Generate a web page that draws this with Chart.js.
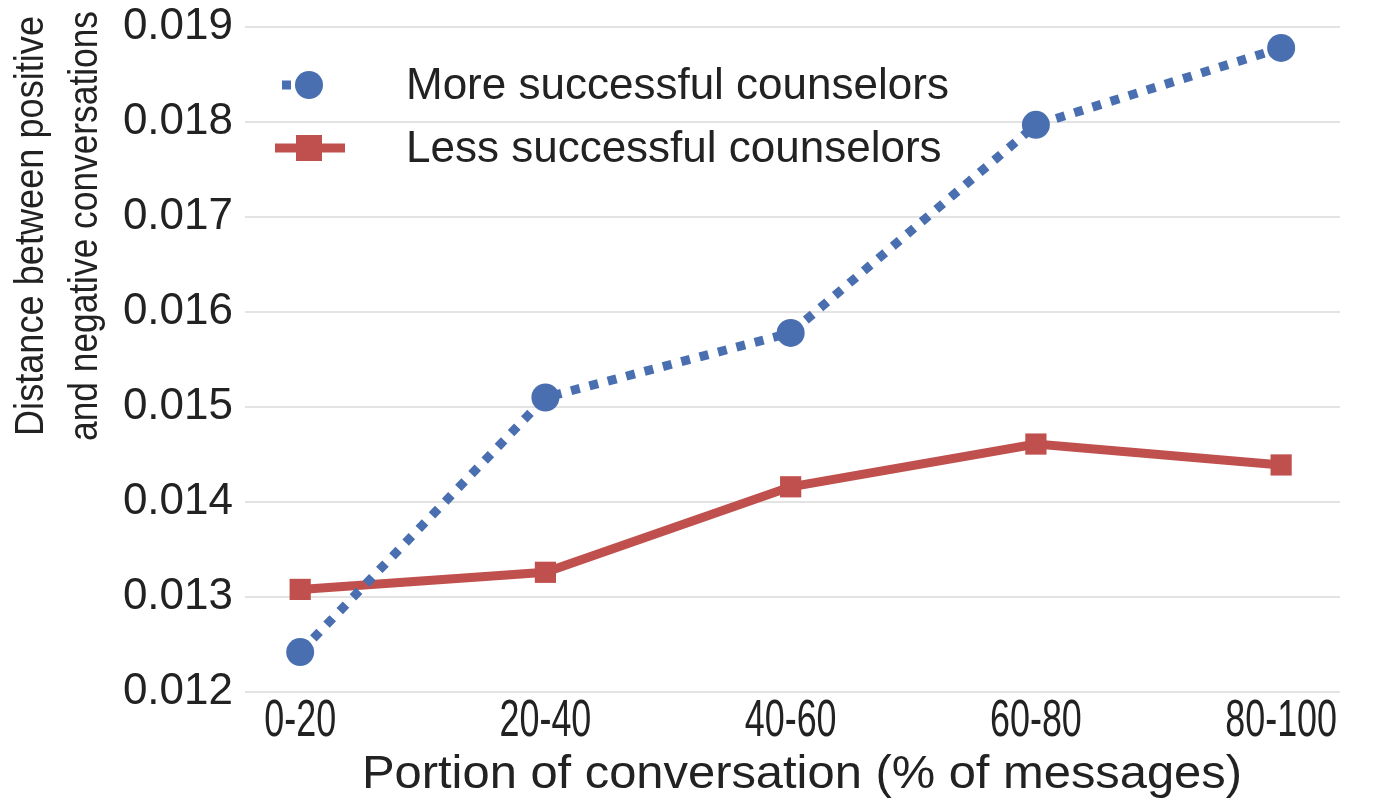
<!DOCTYPE html>
<html><head><meta charset="utf-8">
<script src="https://cdn.jsdelivr.net/npm/chart.js@4"></script>
<style>html,body{margin:0;padding:0;background:#fff}#wrap{width:1375px;height:810px}</style>
</head><body><div id="wrap"><canvas id="c" width="1375" height="810"></canvas></div>
<script>
const categories = ['0-20', '20-40', '40-60', '60-80', '80-100'];
const moreSuccessful = [0.01242, 0.01510, 0.01578, 0.01797, 0.01878];
const lessSuccessful = [0.01308, 0.01326, 0.01416, 0.01461, 0.01439];
const yTicks = [0.012, 0.013, 0.014, 0.015, 0.016, 0.017, 0.018, 0.019];
const seriesNames = ['More successful counselors', 'Less successful counselors'];
const yTitle = ['Distance between positive', 'and negative conversations'];
const xTitle = 'Portion of conversation (% of messages)';

const BLUE = '#4a6fb0', RED = '#c0504d';
const FONT = '"Liberation Sans", Arial, Helvetica, sans-serif';
const TXT = '#222';

// draw text horizontally squeezed to a target width
function fitText(ctx, text, x, y, width) {
  const w = ctx.measureText(text).width;
  ctx.save();
  ctx.translate(x, y);
  ctx.scale(width / w, 1);
  ctx.fillText(text, 0, 0);
  ctx.restore();
}

const customText = {
  id: 'customText',
  afterDraw(chart) {
    const ctx = chart.ctx;
    const xs = chart.scales.x;
    ctx.save();
    ctx.fillStyle = TXT;
    ctx.textAlign = 'center';
    ctx.textBaseline = 'middle';
    // x tick labels (condensed), positioned by the x scale
    ctx.font = '52px ' + FONT;
    categories.forEach((c, i) => {
      const w = ctx.measureText(c).width * 0.69;
      fitText(ctx, c, xs.getPixelForValue(i), 722, w);
    });
    // y title (two rotated lines)
    ctx.font = '41px ' + FONT;
    const yLens = [420, 430];
    [32, 86].forEach((x, i) => {
      ctx.save();
      ctx.translate(x, 226);
      ctx.rotate(-Math.PI / 2);
      fitText(ctx, yTitle[i], 0, 0, yLens[i]);
      ctx.restore();
    });
    // x title
    ctx.font = '47px ' + FONT;
    fitText(ctx, xTitle, 802, 775, 880);
    // legend
    ctx.font = '44px ' + FONT;
    ctx.textAlign = 'left';
    const items = [
      {y: 85, color: BLUE, dash: [9, 18], point: 'circle'},
      {y: 148, color: RED, dash: [], point: 'rect'}
    ];
    items.forEach((it, i) => {
      ctx.strokeStyle = it.color; ctx.fillStyle = it.color;
      ctx.lineWidth = 9;
      ctx.setLineDash(it.dash);
      ctx.beginPath();
      if (it.point === 'circle') { ctx.moveTo(282, it.y); ctx.lineTo(336, it.y); }
      else { ctx.moveTo(275, it.y); ctx.lineTo(345, it.y); }
      ctx.stroke();
      ctx.setLineDash([]);
      if (it.point === 'circle') { ctx.beginPath(); ctx.arc(309, it.y, 14, 0, Math.PI * 2); ctx.fill(); }
      else { ctx.fillRect(296, it.y - 13, 26, 26); }
      ctx.fillStyle = TXT;
      ctx.fillText(seriesNames[i], 406, it.y + 2);
    });
    ctx.restore();
  }
};

new Chart(document.getElementById('c'), {
  type: 'line',
  data: {
    datasets: [
      {
        label: seriesNames[0],
        data: moreSuccessful.map((v, i) => ({x: i, y: v})),
        borderColor: BLUE, backgroundColor: BLUE,
        borderWidth: 9, borderDash: [9, 10],
        pointStyle: 'circle', pointRadius: 14, pointHoverRadius: 14,
        pointBorderWidth: 0, tension: 0
      },
      {
        label: seriesNames[1],
        data: lessSuccessful.map((v, i) => ({x: i, y: v})),
        borderColor: RED, backgroundColor: RED,
        borderWidth: 9,
        pointStyle: 'rect', pointRadius: 15, pointHoverRadius: 15,
        pointBorderWidth: 0, tension: 0
      }
    ]
  },
  options: {
    responsive: false, animation: false,
    layout: {padding: {top: 27, right: 35, left: 0, bottom: 0}},
    plugins: {legend: {display: false}, tooltip: {enabled: false}},
    scales: {
      x: {
        type: 'linear', min: -0.225, max: 4.24,
        afterBuildTicks(s) { s.ticks = categories.map((c, i) => ({value: i})); },
        afterFit(s) { s.height = 118; s.paddingLeft = 0; s.paddingRight = 0; },
        ticks: {display: false},
        grid: {display: false},
        border: {display: false}
      },
      y: {
        min: 0.012, max: 0.019,
        afterBuildTicks(s) { s.ticks = yTicks.map(v => ({value: v})); },
        afterFit(s) { s.width = 245; s.paddingTop = 0; s.paddingBottom = 0; },
        ticks: {
          callback: (v) => v.toFixed(3),
          color: TXT, font: {family: FONT, size: 44}, padding: 12
        },
        grid: {color: '#e3e3e3', lineWidth: 2, drawTicks: false},
        border: {display: false}
      }
    }
  },
  plugins: [customText]
});
</script></body></html>
